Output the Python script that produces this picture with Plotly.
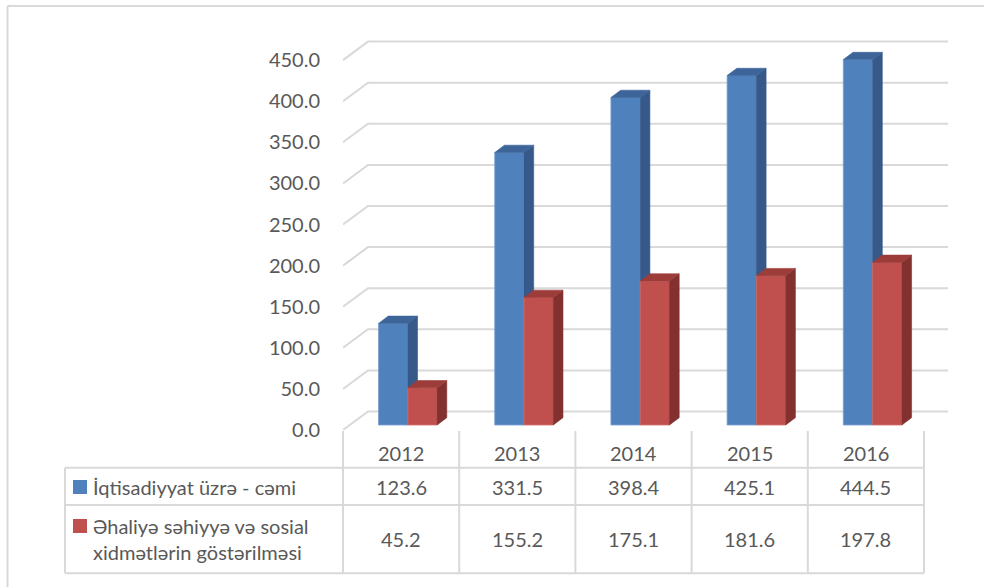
import plotly.graph_objects as go

# ---------------- data ----------------
years = ["2012", "2013", "2014", "2015", "2016"]
series_names = ["İqtisadiyyat üzrə - cəmi", "Əhaliyə səhiyyə və sosial<br>xidmətlərin göstərilməsi"]
total_values = [123.6, 331.5, 398.4, 425.1, 444.5]
health_values = [45.2, 155.2, 175.1, 181.6, 197.8]
y_ticks = [0, 50, 100, 150, 200, 250, 300, 350, 400, 450]

# ---------------- styles / geometry ----------------
W, H = 984, 587
ML, MR, MT, MB = 343, 36, 30, 157
PW, PH = W - ML - MR, H - MT - MB
COLW = 116.2                      # px per category
K = 0.822                         # px per value unit
XMAX = PW / COLW
YMAX = PH / K

WALL_DX = 25 / COLW               # depth of floor/wall
WALL_DY = 18.5 / K
SHIFT_X = 6.7 / COLW              # bar row position in depth
SHIFT_Y = 5.0 / K
BAR_DX = 9.7 / COLW               # bar depth
BAR_DY = 7.3 / K
BW = 0.252

GRID = "#d9d9d9"
TXT = "#595959"
FONT = "Lato, 'Open Sans', sans-serif"
series_colors = [
    ("#4F81BD", "#36598A", "#3D6599"),
    ("#C0504D", "#82312F", "#9C3D3A"),
]


def px2paper_x(px):
    return (px - ML) / PW


def px2paper_y(py):
    return (MT + PH - py) / PH


fig = go.Figure()


def add_poly(xs, ys, color, lw=0.6, lc=None):
    fig.add_trace(go.Scatter(x=xs, y=ys, mode="lines", fill="toself",
                             fillcolor=color, line=dict(color=lc or color, width=lw),
                             hoverinfo="skip", showlegend=False))


# bars (front, side, top) per category, blue then red
for i in range(len(years)):
    center = i + 0.5 + SHIFT_X
    for s, vals in enumerate([total_values, health_values]):
        v = vals[i]
        x0 = center - BW + s * BW
        x1 = x0 + BW
        y0 = SHIFT_Y
        top = y0 + v
        front, side, topc = series_colors[s]
        add_poly([x0, x1, x1, x0, x0], [y0, y0, top, top, y0], front, 0.8,
                 "#7a9fd0" if s == 0 else "#d0716e")
        add_poly([x1, x1 + BAR_DX, x1 + BAR_DX, x1, x1],
                 [y0, y0 + BAR_DY, top + BAR_DY, top, y0], side)
        add_poly([x0, x0 + BAR_DX, x1 + BAR_DX, x1, x0],
                 [top, top + BAR_DY, top + BAR_DY, top, top], topc)

shapes = []
# side wall + back wall gridlines
for v in y_ticks:
    shapes.append(dict(type="path", xref="x", yref="y", layer="below",
                       path=f"M 0,{v} L {WALL_DX},{v + WALL_DY} L {XMAX},{v + WALL_DY}",
                       line=dict(color=GRID, width=2)))

# table
col_edges = [px2paper_x(ML + c * COLW) for c in range(len(years) + 1)]
t_left = px2paper_x(65)
y_head_top = px2paper_y(431)
y_top = px2paper_y(467.7)
y_mid = px2paper_y(505)
y_bot = px2paper_y(573.3)
line = dict(color=GRID, width=2)
for k, xe in enumerate(col_edges):
    shapes.append(dict(type="line", xref="paper", yref="paper", x0=xe, x1=xe,
                       y0=y_head_top, y1=y_bot, line=line))
shapes.append(dict(type="line", xref="paper", yref="paper", x0=t_left, x1=t_left,
                   y0=y_top, y1=y_bot, line=line))
for yy in (y_top, y_mid, y_bot):
    shapes.append(dict(type="line", xref="paper", yref="paper", x0=t_left,
                       x1=col_edges[-1], y0=yy, y1=yy, line=line))

# legend keys
for s, cy in enumerate([487, 526]):
    shapes.append(dict(type="rect", xref="paper", yref="paper",
                       x0=px2paper_x(73), x1=px2paper_x(87),
                       y0=px2paper_y(cy + 7), y1=px2paper_y(cy - 7),
                       fillcolor=series_colors[s][0], line=dict(width=0)))

# outer border (left/top)
shapes.append(dict(type="line", xref="paper", yref="paper", x0=px2paper_x(7.5), x1=px2paper_x(7.5),
                   y0=px2paper_y(6), y1=px2paper_y(H), line=dict(color="#d9d9d9", width=2)))
shapes.append(dict(type="line", xref="paper", yref="paper", x0=px2paper_x(7.5), x1=px2paper_x(W),
                   y0=px2paper_y(6), y1=px2paper_y(6), line=dict(color="#d9d9d9", width=2)))

annotations = []
font = dict(family=FONT, size=20, color=TXT)
for i, yr in enumerate(years):
    cx = (col_edges[i] + col_edges[i + 1]) / 2
    annotations.append(dict(xref="paper", yref="paper", x=cx, y=px2paper_y(453), text=yr,
                            showarrow=False, font=font, xanchor="center", yanchor="middle"))
    annotations.append(dict(xref="paper", yref="paper", x=cx, y=px2paper_y(487),
                            text=f"{total_values[i]:.1f}", showarrow=False, font=font,
                            xanchor="center", yanchor="middle"))
    annotations.append(dict(xref="paper", yref="paper", x=cx, y=px2paper_y(539),
                            text=f"{health_values[i]:.1f}", showarrow=False, font=font,
                            xanchor="center", yanchor="middle"))
annotations.append(dict(xref="paper", yref="paper", x=px2paper_x(91), y=px2paper_y(487),
                        text=series_names[0], showarrow=False, font=font,
                        xanchor="left", yanchor="middle", align="left"))
annotations.append(dict(xref="paper", yref="paper", x=px2paper_x(91), y=px2paper_y(539),
                        text=series_names[1], showarrow=False, font=font,
                        xanchor="left", yanchor="middle", align="left"))

fig.update_layout(
    width=W, height=H,
    margin=dict(l=ML, r=MR, t=MT, b=MB, pad=0),
    paper_bgcolor="white", plot_bgcolor="white",
    showlegend=False,
    xaxis=dict(range=[0, XMAX], visible=False, fixedrange=True),
    yaxis=dict(range=[0, YMAX], tickvals=y_ticks, tickformat=".1f",
               showgrid=False, zeroline=False, showline=False, ticks="",
               ticklabelstandoff=22, tickfont=font, fixedrange=True),
    shapes=shapes,
    annotations=annotations,
)

fig.write_html("out.html", config={"displayModeBar": False},
               post_script="document.body.style.margin='0';document.body.style.overflow='hidden';")
